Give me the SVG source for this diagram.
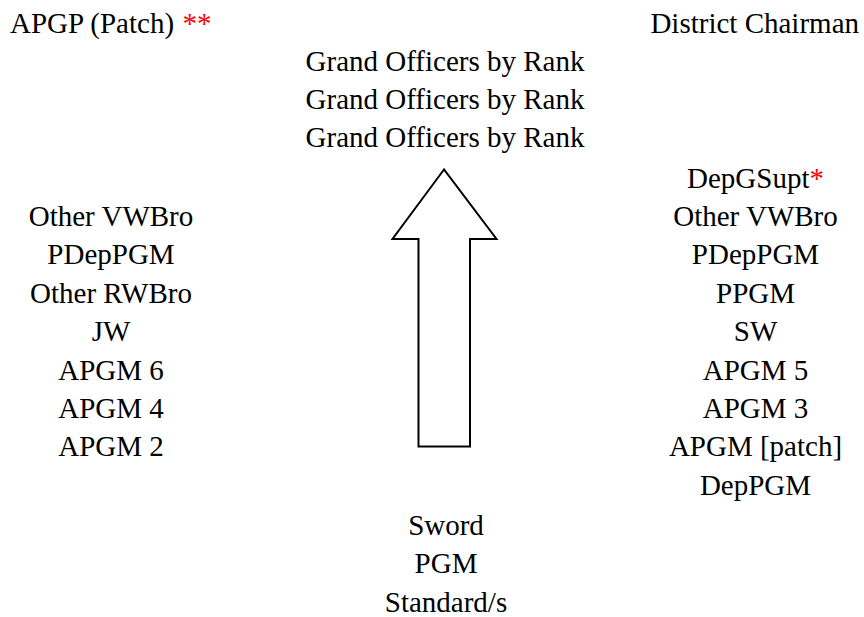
<svg xmlns="http://www.w3.org/2000/svg" width="864" height="617" viewBox="0 0 864 617">
<style>
text { font-family: 'Liberation Serif', serif; font-size: 29px; fill: #000000; }
.c { text-anchor: middle; }
.red { fill: #ff0000; }
.arrow { fill: #ffffff; stroke: #000000; stroke-width: 2; stroke-linejoin: miter; }
</style>
<rect x="0" y="0" width="864" height="617" fill="#ffffff"/>
<g id="top-left">
<text x="10" y="33" font-family="'Liberation Serif', serif">APGP (Patch)</text>
<text class="red" x="182.5" y="33" font-family="'Liberation Serif', serif">**</text>
</g>
<g id="top-right"><text x="859" y="33" text-anchor="end" font-family="'Liberation Serif', serif">District Chairman</text></g>
<g id="grand-officers">
<text class="c" x="445" y="71" font-family="'Liberation Serif', serif">Grand Officers by Rank</text>
<text class="c" x="445" y="109" font-family="'Liberation Serif', serif">Grand Officers by Rank</text>
<text class="c" x="445" y="147" font-family="'Liberation Serif', serif">Grand Officers by Rank</text>
</g>
<g id="left-column">
<text class="c" x="111" y="226" font-family="'Liberation Serif', serif">Other VWBro</text>
<text class="c" x="111" y="264.4" font-family="'Liberation Serif', serif">PDepPGM</text>
<text class="c" x="111" y="302.8" font-family="'Liberation Serif', serif">Other RWBro</text>
<text class="c" x="111" y="341.2" font-family="'Liberation Serif', serif">JW</text>
<text class="c" x="111" y="379.6" font-family="'Liberation Serif', serif">APGM 6</text>
<text class="c" x="111" y="418" font-family="'Liberation Serif', serif">APGM 4</text>
<text class="c" x="111" y="456.4" font-family="'Liberation Serif', serif">APGM 2</text>
</g>
<g id="right-column">
<text x="687" y="187.5" font-family="'Liberation Serif', serif">DepGSupt</text>
<text class="red" x="809.5" y="187.5" font-family="'Liberation Serif', serif">*</text>
<text class="c" x="755.5" y="225.9" font-family="'Liberation Serif', serif">Other VWBro</text>
<text class="c" x="755.5" y="264.3" font-family="'Liberation Serif', serif">PDepPGM</text>
<text class="c" x="755.5" y="302.7" font-family="'Liberation Serif', serif">PPGM</text>
<text class="c" x="755.5" y="341.1" font-family="'Liberation Serif', serif">SW</text>
<text class="c" x="755.5" y="379.5" font-family="'Liberation Serif', serif">APGM 5</text>
<text class="c" x="755.5" y="417.9" font-family="'Liberation Serif', serif">APGM 3</text>
<text class="c" x="755.5" y="456.3" font-family="'Liberation Serif', serif">APGM [patch]</text>
<text class="c" x="755.5" y="494.7" font-family="'Liberation Serif', serif">DepPGM</text>
</g>
<g id="bottom">
<text class="c" x="446" y="535" font-family="'Liberation Serif', serif">Sword</text>
<text class="c" x="446" y="573.4" font-family="'Liberation Serif', serif">PGM</text>
<text class="c" x="446" y="611.8" font-family="'Liberation Serif', serif">Standard/s</text>
</g>
<g id="connectors">
<polygon class="arrow" points="444,169.5 392.5,239 418.5,239 418.5,446.5 470,446.5 470,239 496.5,239"/>
</g>
</svg>
